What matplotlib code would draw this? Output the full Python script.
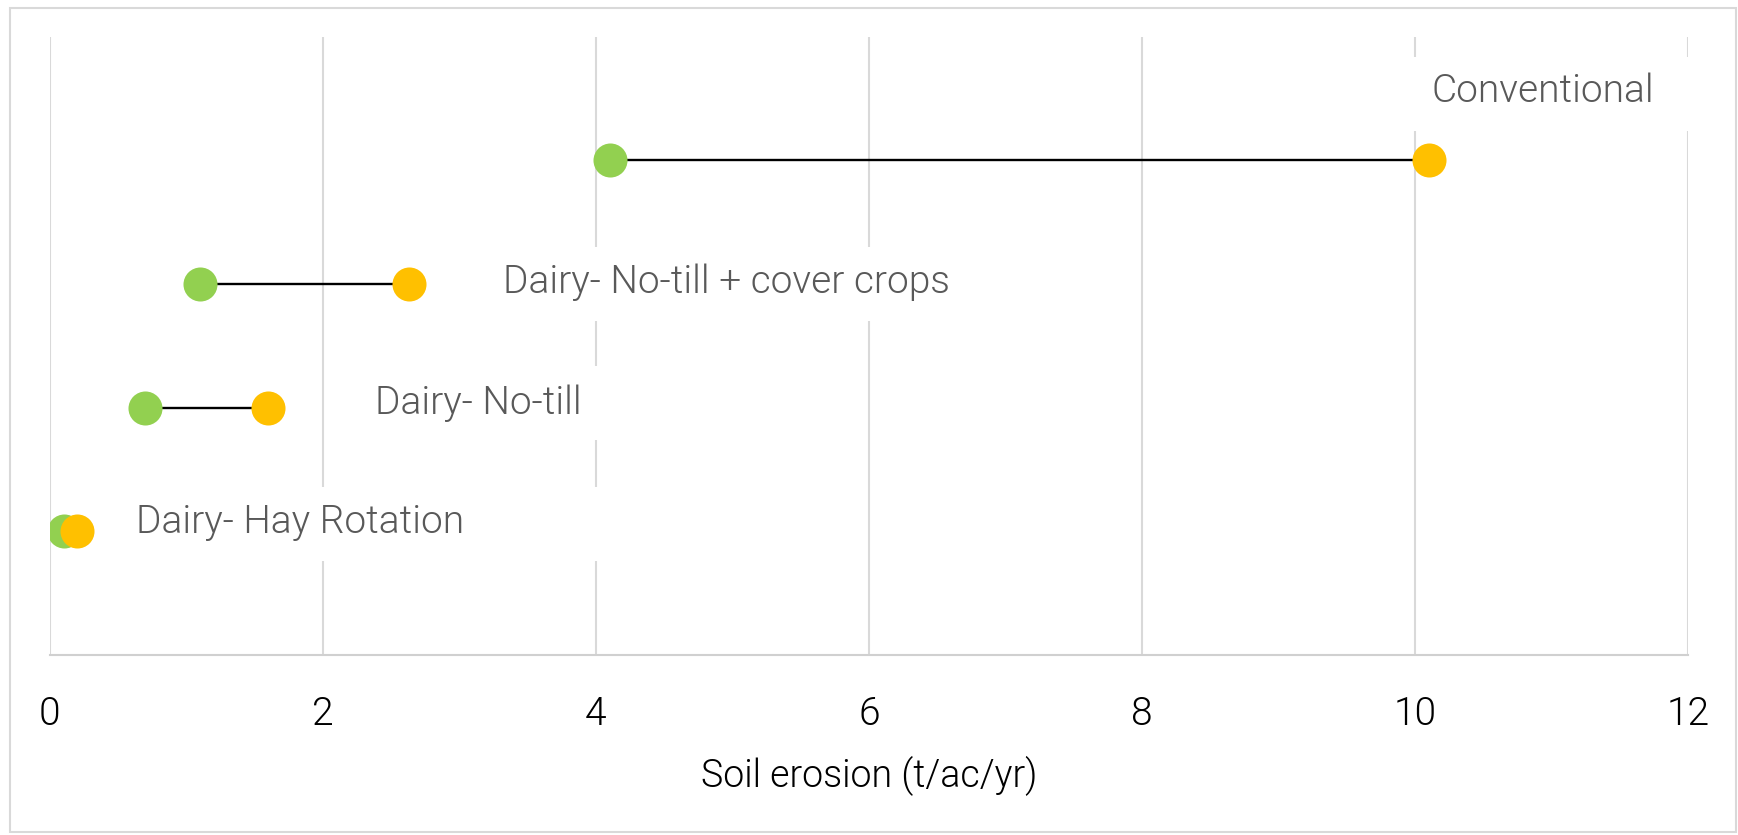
import matplotlib
matplotlib.use("Agg")
import matplotlib.pyplot as plt
from matplotlib.patches import Rectangle

# rows from bottom to top
practices = ['Dairy- Hay Rotation', 'Dairy- No-till', 'Dairy- No-till + cover crops', 'Conventional']
low_vals = [0.1, 0.7, 1.1, 4.1]      # green dots
high_vals = [0.2, 1.6, 2.63, 10.1]   # orange dots
rows = [1, 2, 3, 4]

# where the data labels sit (Excel placed them by hand)
label_x = [0.63, 2.38, 3.32, 10.12]
label_y = [0.986, 1.949, 2.93, 4.471]     # text baselines
box_y = [1.059, 2.037, 3.0, 4.536]        # centres of the white label boxes

xticks = [0, 2, 4, 6, 8, 10, 12]

plt.rcParams['font.family'] = ['Roboto', 'DejaVu Sans']
plt.rcParams['font.weight'] = 300

fig = plt.figure(figsize=(17.38, 8.35), dpi=100)
ax = fig.add_axes([0.0287, 0.2156, 0.9425, 0.7406])

for y, lo, hi in zip(rows, low_vals, high_vals):
    ax.plot([lo, hi], [y, y], color='black', lw=1.7, zorder=2)
ax.plot(low_vals, rows, 'o', color='#92D050', ms=24.5, mec='none', zorder=4)
ax.plot(high_vals, rows, 'o', color='#FFC000', ms=24.5, mec='none', zorder=5)

# label boxes are wider than the text, like the Excel text frames
box_w, box_h, box_off = 3.67, 0.6, 0.15
for txt, lx, ly, by in zip(practices, label_x, label_y, box_y):
    ax.add_patch(Rectangle((lx - box_off, by - box_h / 2), box_w, box_h,
                           fc='white', ec='none', zorder=1.5, clip_on=False))
    ax.text(lx, ly, txt, ha='left', va='baseline', fontsize=28, fontweight=300,
            color='#595959', zorder=3)

ax.set_xlim(0, 12)
ax.set_ylim(0, 5)
ax.set_xticks(xticks)
ax.set_xticklabels([str(t) for t in xticks])
ax.set_yticks([])
ax.grid(axis='x', color='#D9D9D9', lw=1.5, zorder=0)
ax.set_axisbelow(True)
for s in ['top', 'right', 'left']:
    ax.spines[s].set_visible(False)
ax.spines['bottom'].set_color('#D0D0D0')
ax.spines['bottom'].set_linewidth(1.5)
ax.tick_params(axis='x', length=0, pad=29, labelsize=28, labelcolor='black')
ax.set_xlabel('Soil erosion (t/ac/yr)', fontsize=27, fontweight=300, labelpad=17)

# light grey frame round the whole chart
fig.patches.append(Rectangle((0.0055, 0.003), 0.9935, 0.988, transform=fig.transFigure,
                             fill=False, ec='#D9D9D9', lw=1.5, zorder=5))

fig.savefig('out.png', dpi=100)
